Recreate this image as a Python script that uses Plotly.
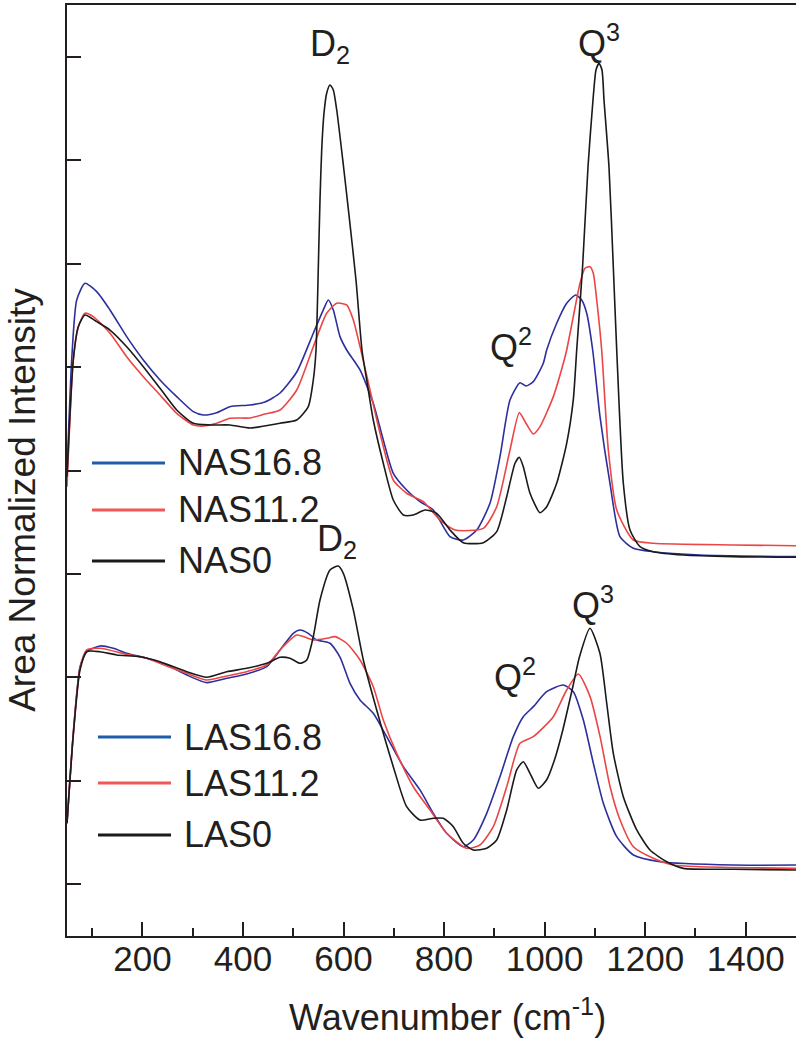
import plotly.graph_objects as go

# ---- Raman spectra (area normalised, vertically offset) ----
# Top group: sodium aluminosilicate glasses
nas0_wn = [50, 62.5, 72.5, 85.8, 109.1, 135.5, 168.7, 201.8, 235.0, 268.2, 301.2, 334.4, 374.2,
           414.0, 473.7, 506.9, 529.9, 539.9, 545.3, 549.9, 553.2, 556.6, 561.2, 566.6, 573.1,
           579.7, 586.5, 598.5, 610.4, 624.8, 636.7, 646.1, 659.2, 679.1, 699.0, 718.9, 738.8,
           762.1, 785.4, 811.8, 838.2, 878.0, 904.7, 924.6, 941.1, 949.6, 957.6, 970.9, 990.8,
           1004.1, 1024.0, 1043.9, 1057.0, 1063.8, 1075.5, 1086.3, 1096.2, 1102.2, 1108.2, 1114.1,
           1118.1, 1128.0, 1136.6, 1143.4, 1156.5, 1169.8, 1189.7, 1216.2, 1275.8, 1374.7, 1500]
nas0_int = [4.940, 6.068, 6.390, 6.503, 6.439, 6.358, 6.197, 6.004, 5.795, 5.585, 5.457, 5.440, 5.440,
            5.411, 5.457, 5.488, 5.617, 5.875, 6.165, 6.970, 7.615, 8.098, 8.456, 8.650, 8.727,
            8.679, 8.485, 8.002, 7.490, 6.842, 6.165, 5.875, 5.488, 5.070, 4.715, 4.570, 4.570,
            4.618, 4.586, 4.425, 4.302, 4.302, 4.409, 4.747, 5.070, 5.128, 5.037, 4.780, 4.592,
            4.650, 4.876, 5.263, 5.682, 6.165, 6.970, 7.937, 8.582, 8.872, 8.937, 8.872,
            8.582, 7.937, 6.970, 6.165, 4.879, 4.425, 4.264, 4.215, 4.183, 4.167, 4.161]

nas168_wn = [50, 59.3, 69.3, 85.8, 109.1, 135.5, 168.7, 201.8, 235.0, 268.2, 301.2, 321.1, 347.8,
             374.2, 414.0, 443.8, 473.7, 506.9, 539.9, 559.8, 569.7, 579.7, 593.0, 606.3, 632.8,
             659.2, 679.1, 699.0, 725.6, 752.1, 778.6, 811.8, 838.2, 864.9, 891.3, 911.2, 931.1,
             951.0, 962.9, 977.5, 997.4, 1004.1, 1024.0, 1043.9, 1061.8, 1073.7, 1083.7, 1095.6,
             1110.2, 1130.0, 1149.9, 1176.4, 1216.2, 1309.0, 1500]
nas168_int = [4.973, 6.068, 6.648, 6.810, 6.729, 6.552, 6.294, 6.068, 5.875, 5.714, 5.569, 5.537, 5.559,
              5.617, 5.633, 5.662, 5.749, 5.952, 6.327, 6.552, 6.648, 6.552, 6.294, 6.165, 5.972,
              5.650, 5.295, 4.973, 4.812, 4.699, 4.618, 4.360, 4.328, 4.425, 4.683, 5.134, 5.682,
              5.849, 5.817, 5.859, 6.037, 6.165, 6.423, 6.617, 6.697, 6.648, 6.520, 6.165,
              5.520, 4.876, 4.360, 4.248, 4.215, 4.183, 4.167]

nas112_wn = [50, 62.5, 72.5, 85.8, 102.3, 135.5, 168.7, 201.8, 235.0, 268.2, 301.2, 321.1, 347.8,
             374.2, 414.0, 443.8, 473.7, 506.9, 539.9, 566.5, 586.4, 606.3, 619.5, 632.8, 652.7,
             672.6, 699.0, 725.6, 758.7, 791.9, 821.7, 878.0, 904.7, 931.1, 949.6, 962.9, 977.5,
             990.8, 1017.3, 1037.2, 1043.9, 1057.0, 1070.4, 1080.3, 1090.3, 1096.8, 1103.6, 1113.5,
             1126.7, 1143.4, 1176.4, 1216.2, 1375.3, 1500]
nas112_int = [4.844, 6.068, 6.390, 6.520, 6.487, 6.327, 6.100, 5.907, 5.730, 5.553, 5.440, 5.430, 5.457,
              5.505, 5.508, 5.546, 5.585, 5.778, 6.197, 6.520, 6.617, 6.600, 6.455, 6.197, 5.778,
              5.360, 4.908, 4.780, 4.699, 4.522, 4.425, 4.441, 4.650, 5.198, 5.559, 5.457, 5.353,
              5.424, 5.714, 6.037, 6.165, 6.487, 6.810, 6.955, 6.970, 6.907, 6.648, 6.165,
              5.198, 4.618, 4.328, 4.296, 4.280, 4.273]

# Bottom group: lithium aluminosilicate glasses
las0_wn = [50, 62.5, 75.9, 89.2, 115.6, 148.9, 195.2, 235.0, 288.1, 327.9, 367.7, 407.4, 447.2,
           473.7, 493.5, 513.4, 526.8, 539.9, 553.2, 573.1, 589.6, 599.6, 619.5, 639.4, 666.0,
           699.0, 725.6, 752.1, 778.6, 798.5, 818.4, 838.2, 858.1, 884.8, 904.7, 924.6, 944.5,
           957.6, 970.9, 987.4, 1004.1, 1019.6, 1036.2, 1056.1, 1069.4, 1090.2, 1110.0, 1123.5,
           1136.6, 1156.5, 1183.2, 1209.6, 1242.8, 1275.8, 1375.3, 1500]
las0_int = [1.590, 2.443, 3.072, 3.248, 3.248, 3.217, 3.200, 3.152, 3.055, 3.001, 3.055, 3.088, 3.136,
            3.194, 3.185, 3.136, 3.168, 3.394, 3.748, 4.038, 4.077, 4.006, 3.652, 3.168, 2.685,
            2.137, 1.750, 1.621, 1.638, 1.638, 1.557, 1.396, 1.331, 1.348, 1.428, 1.718, 2.105,
            2.185, 2.073, 1.928, 2.010, 2.202, 2.492, 2.910, 3.200, 3.475, 3.233, 2.750,
            2.266, 1.847, 1.525, 1.331, 1.218, 1.154, 1.145, 1.138]

las168_wn = [50, 62.5, 75.9, 89.2, 115.6, 142.1, 168.7, 208.5, 248.3, 288.1, 327.9, 367.7, 407.4,
             447.2, 473.7, 500.1, 513.4, 529.9, 546.7, 573.1, 593.0, 612.9, 632.8, 659.2, 685.9,
             718.9, 752.1, 778.6, 805.2, 838.2, 858.1, 884.8, 911.2, 937.7, 957.6, 977.5, 1004.0,
             1037.2, 1057.1, 1077.0, 1096.9, 1116.8, 1143.4, 1176.6, 1229.6, 1375.3, 1500]
las168_int = [1.590, 2.460, 3.104, 3.248, 3.304, 3.281, 3.233, 3.185, 3.120, 3.023, 2.949, 2.991, 3.033,
              3.104, 3.265, 3.426, 3.458, 3.426, 3.362, 3.330, 3.197, 2.943, 2.782, 2.653, 2.427,
              2.137, 1.912, 1.686, 1.493, 1.363, 1.428, 1.686, 2.040, 2.427, 2.620, 2.717, 2.862,
              2.927, 2.862, 2.588, 2.170, 1.783, 1.460, 1.283, 1.218, 1.186, 1.186]

las112_wn = [50, 62.5, 75.9, 89.2, 115.6, 168.7, 208.5, 248.3, 288.1, 327.9, 367.7, 407.4, 447.2,
             473.7, 506.9, 539.9, 566.5, 583.1, 606.3, 632.8, 659.2, 679.1, 705.8, 738.8, 772.0,
             805.2, 845.0, 871.5, 897.9, 924.6, 951.0, 977.5, 1017.3, 1043.8, 1067.1, 1090.4,
             1110.3, 1130.2, 1150.1, 1176.6, 1216.4, 1256.2, 1309.0, 1500]
las112_int = [1.590, 2.453, 3.091, 3.265, 3.281, 3.223, 3.185, 3.110, 3.040, 2.975, 3.014, 3.055, 3.120,
              3.265, 3.410, 3.362, 3.378, 3.394, 3.330, 3.168, 2.910, 2.588, 2.266, 1.943, 1.718,
              1.493, 1.348, 1.380, 1.557, 1.943, 2.363, 2.427, 2.620, 2.878, 3.033, 2.814,
              2.427, 1.943, 1.621, 1.363, 1.251, 1.186, 1.170, 1.154]

nas_names = ["NAS16.8", "NAS11.2", "NAS0"]
las_names = ["LAS16.8", "LAS11.2", "LAS0"]

# Band assignments: (label, wavenumber, intensity)
band_labels = [
    ("D<sub>2</sub>", 573, 9.10),
    ("Q<sup>3</sup>", 1108, 9.15),
    ("Q<sup>2</sup>", 933, 6.21),
    ("D<sub>2</sub>", 588, 4.32),
    ("Q<sup>3</sup>", 1096, 3.72),
    ("Q<sup>2</sup>", 941, 3.02),
]

x_ticks = [200, 400, 600, 800, 1000, 1200, 1400]

BLUE, RED, BLACK = "#2c2f9c", "#ec4545", "#1a1a1a"
LEG_BLUE, LEG_RED = "#1f5dab", "#f05757"
INK = "#231f20"
FONT = "Liberation Sans, Arial, Helvetica, sans-serif"
TXT = 36

fig = go.Figure()

series = [
    (nas168_wn, nas168_int, "NAS16.8", BLUE),
    (nas112_wn, nas112_int, "NAS11.2", RED),
    (nas0_wn, nas0_int, "NAS0", BLACK),
    (las168_wn, las168_int, "LAS16.8", BLUE),
    (las112_wn, las112_int, "LAS11.2", RED),
    (las0_wn, las0_int, "LAS0", BLACK),
]
for wn, inten, name, col in series:
    fig.add_trace(go.Scatter(
        x=wn, y=inten, name=name, mode="lines", showlegend=False,
        line=dict(color=col, width=1.6, shape="spline", smoothing=0.6),
    ))

annotations = []
shapes = []

# peak labels
for txt, xv, yv in band_labels:
    annotations.append(dict(x=xv, y=yv, xref="x", yref="y", text=txt, showarrow=False,
                            font=dict(size=TXT, color=INK, family=FONT)))

# hand-placed legends for the two glass families
def add_legend(names, x0, x1, xt, ys):
    for name, col, yy in zip(names, [LEG_BLUE, LEG_RED, BLACK], ys):
        shapes.append(dict(type="line", xref="paper", yref="paper", x0=x0, x1=x1, y0=yy, y1=yy,
                           line=dict(color=col, width=3)))
        annotations.append(dict(x=xt, y=yy, xref="paper", yref="paper", text=name,
                                showarrow=False, xanchor="left", yanchor="middle",
                                font=dict(size=TXT, color=INK, family=FONT)))

add_legend(nas_names, 0.0343, 0.1344, 0.150, [0.5081, 0.4576, 0.4028])
add_legend(las_names, 0.0425, 0.1427, 0.158, [0.2137, 0.1643, 0.1085])

# axis titles
annotations.append(dict(x=0.5226, y=-0.085, xref="paper", yref="paper",
                        text="Wavenumber (cm<sup>-1</sup>)", showarrow=False,
                        xanchor="center", yanchor="middle",
                        font=dict(size=TXT, color=INK, family=FONT)))
annotations.append(dict(x=-0.061, y=0.468, xref="paper", yref="paper",
                        text="Area Normalized Intensity", showarrow=False, textangle=-90,
                        xanchor="center", yanchor="middle",
                        font=dict(size=37, color=INK, family=FONT)))

fig.update_layout(
    width=796, height=1043,
    margin=dict(l=67, r=0, t=5, b=107, pad=0),
    paper_bgcolor="white", plot_bgcolor="white",
    font=dict(family=FONT, color=INK, size=TXT),
    showlegend=False,
    annotations=annotations,
    shapes=shapes,
    xaxis=dict(
        range=[50, 1500], tickvals=x_ticks, ticktext=[str(v) for v in x_ticks],
        ticks="inside", ticklen=14, tickwidth=2, tickcolor=INK,
        minor=dict(dtick=100, tick0=0, ticks="inside", ticklen=8, tickwidth=2, tickcolor=INK),
        showline=True, linewidth=2, linecolor=INK, mirror=True,
        showgrid=False, zeroline=False,
        tickfont=dict(size=35, color=INK, family=FONT),
        ticklabelstandoff=-9,
    ),
    yaxis=dict(
        range=[0.5, 9.5], dtick=1, tick0=0, showticklabels=False,
        ticks="inside", ticklen=14, tickwidth=2, tickcolor=INK,
        showline=True, linewidth=2, linecolor=INK,
        showgrid=False, zeroline=False,
    ),
)

fig.write_html("out.html")
